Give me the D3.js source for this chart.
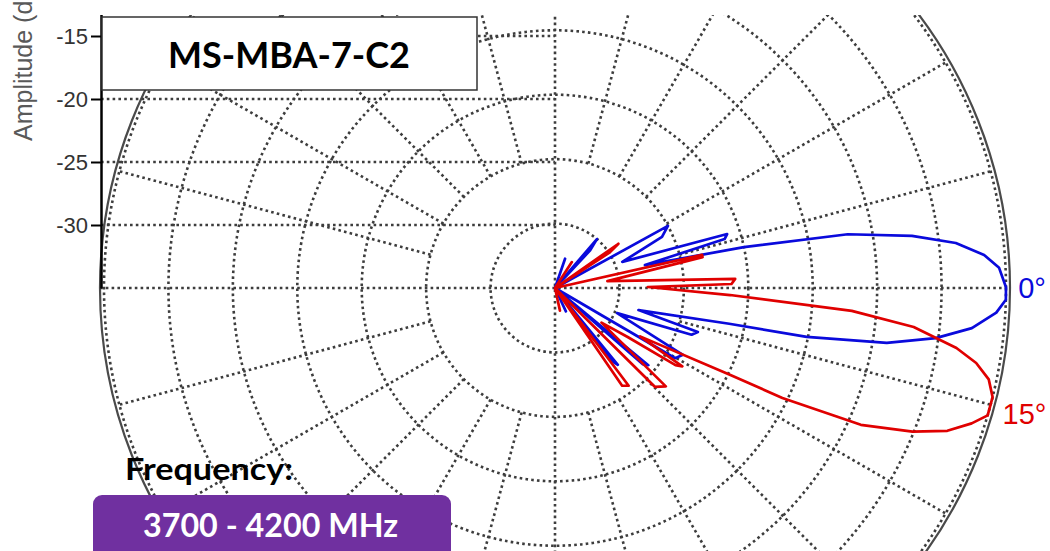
<!doctype html>
<html>
  <head>
    <meta charset="utf-8">
    <script src="https://cdnjs.cloudflare.com/ajax/libs/d3/7.8.5/d3.min.js"></script>
    <style>
      body { margin: 0; background: #fff; }
      svg { display: block; }
      .grid { fill: none; stroke: #3d3d3d; stroke-width: 2.6; stroke-dasharray: 2.6 3.2; }
      .tick text { font-family: "Liberation Sans", Arial, sans-serif; font-size: 22px; fill: #333; }
    </style>
  </head>
  <body>
    <svg id="chart" width="1050" height="551"></svg>
    <script>
      // rings every 5 dB, amplitude axis ticks
      var ringLevels = [-30, -25, -20, -15, -10, -5, 0];
      var axisTicks = [-30, -25, -20, -15];
      var spokeAngles = [15, 30, 45, 60, 75, 105, 120, 135, 150, 165, 195, 210, 225, 240, 255, 285, 300, 315, 330, 345];

      // series: beam tilt 0 deg (blue) and 15 deg (red); angle in degrees, up = positive
      var seriesNames = ["0°", "15°"];
      var seriesColors = ["#0a0adc", "#e00000"];
      var seriesPeak = [0, -15];

      var blueAngles = [90, 76, 71, 66, 53, 49.4, 47, 43, 35, 28.8, 25.5, 21.2, 17.4, 16.1, 14.3, 12.2, 10.4, 8.3, 6.4, 4.4, 2.6, 0.1, -1.5, -3.2, -5.5, -7.5, -9.4, -11.0, -11.6, -14.8, -17.1, -18.9, -22.0, -27.6, -30.3, -36, -39.6, -41, -45, -50.7, -52, -56, -65, -70, -90];
      var blueDb = [-35, -35, -32.6, -35, -35, -30.0, -31.0, -35, -35, -25.0, -25.8, -29.4, -21.0, -21.3, -27.8, -20.0, -11.9, -7.0, -3.7, -1.6, -0.5, 0, 0, -0.7, -2.5, -5.2, -8.9, -15.1, -21.2, -28.3, -23.4, -23.8, -29.8, -23.8, -24.2, -35, -25.6, -26.0, -35, -27.3, -27.8, -35, -33.0, -35, -35];

      var redAngles = [90, 62, 57, 53, 40, 34.9, 33, 30, 20, 12.7, 11.8, 7.5, 2.9, 1.3, 0.6, -2.3, -4.4, -6.2, -8.5, -10.1, -11.9, -14.0, -16.4, -18.0, -20.0, -21.9, -24.1, -25.8, -26.4, -29.6, -31.6, -32.6, -34, -36.7, -41.6, -44.7, -50, -53, -55.5, -60, -77.7, -82, -90];
      var redDb = [-35, -35, -32.6, -35, -35, -29.0, -30.0, -35, -35, -23.3, -23.3, -30.9, -21.0, -21.3, -27.8, -21.4, -11.9, -7.0, -3.5, -1.8, -0.6, 0, 0, -1.0, -2.6, -5.1, -9.0, -15.4, -19.9, -27.4, -23.4, -23.9, -28.2, -30.5, -23.5, -24.1, -35, -25.5, -25.8, -35, -33.2, -35, -35];

      var series = [
        d3.zip(blueAngles, blueDb),
        d3.zip(redAngles, redDb)
      ];

      var cx = 555, cy = 288;
      var svg = d3.select("#chart");

      var rScale = d3.scaleLinear().domain([-35, 0]).range([0, 451]).clamp(true);
      var yAxis = d3.scaleLinear().domain([-35, 0]).range([cy, cy - 35 * 12.6]);
      var rad = d => d * Math.PI / 180;

      svg.append("clipPath").attr("id", "plotClip")
        .append("rect").attr("x", 0).attr("y", 15).attr("width", 1050).attr("height", 551);

      var plot = svg.append("g").attr("clip-path", "url(#plotClip)");
      var polar = plot.append("g").attr("transform", "translate(" + cx + "," + cy + ")");

      // dotted rings
      polar.selectAll("circle.ring")
        .data(ringLevels)
        .enter().append("circle")
          .attr("class", "grid ring")
          .attr("r", d => rScale(d));

      // solid outer boundary
      polar.append("circle")
        .attr("r", rScale(0) + 4)
        .attr("fill", "none")
        .attr("stroke", "#4a4a4a")
        .attr("stroke-width", 2.2);

      // spokes start at the -25 dB ring
      polar.selectAll("line.spoke")
        .data(spokeAngles)
        .enter().append("line")
          .attr("class", "grid spoke")
          .attr("x1", d => rScale(-25) * Math.cos(rad(d)))
          .attr("y1", d => -rScale(-25) * Math.sin(rad(d)))
          .attr("x2", d => rScale(0) * Math.cos(rad(d)))
          .attr("y2", d => -rScale(0) * Math.sin(rad(d)));

      // main axes through the centre
      polar.append("line").attr("class", "grid")
        .attr("x1", -rScale(0) - 4).attr("x2", rScale(0)).attr("y1", 0).attr("y2", 0);
      polar.append("line").attr("class", "grid")
        .attr("x1", 0).attr("x2", 0).attr("y1", -rScale(0)).attr("y2", rScale(0));

      // horizontal guides from the amplitude axis
      var axisX = cx - rScale(0) - 3;
      plot.selectAll("line.hguide")
        .data(axisTicks)
        .enter().append("line")
          .attr("class", "grid hguide")
          .attr("x1", axisX).attr("x2", cx)
          .attr("y1", d => yAxis(d)).attr("y2", d => yAxis(d));

      // pattern curves
      var line = d3.lineRadial()
        .angle(d => rad(90 - d[0]))
        .radius(d => rScale(d[1]));

      polar.selectAll("path.pattern")
        .data(series)
        .enter().append("path")
          .attr("class", "pattern")
          .attr("d", line)
          .attr("fill", "none")
          .attr("stroke", (d, i) => seriesColors[i])
          .attr("stroke-width", 2.7)
          .attr("stroke-linejoin", "round");

      // amplitude axis
      var ax = plot.append("g")
        .attr("transform", "translate(" + axisX + ",0)")
        .call(d3.axisLeft(yAxis).tickValues(axisTicks).tickSize(10).tickSizeOuter(0).tickPadding(3)
          .tickFormat(d => String(d)));
      ax.select(".domain").attr("stroke", "#000").attr("stroke-width", 2.5);
      ax.selectAll(".tick line").attr("stroke", "#000").attr("stroke-width", 2);

      svg.append("text")
        .attr("transform", "translate(32,141) rotate(-90)")
        .attr("font-family", "Liberation Sans, Arial, sans-serif")
        .attr("font-size", 25)
        .attr("fill", "#595959")
        .text("Amplitude (dB)");

      // series labels at the beam peaks
      var labelR = [rScale(0) + 26, rScale(0) + 35];
      svg.selectAll("text.series")
        .data(seriesNames)
        .enter().append("text")
          .attr("class", "series")
          .attr("x", (d, i) => cx + labelR[i] * Math.cos(rad(seriesPeak[i])))
          .attr("y", (d, i) => cy - labelR[i] * Math.sin(rad(seriesPeak[i])))
          .attr("text-anchor", "middle")
          .attr("dominant-baseline", "central")
          .attr("font-family", "Liberation Sans, Arial, sans-serif")
          .attr("font-size", 29)
          .attr("fill", (d, i) => seriesColors[i])
          .text(d => d);

      // title box
      svg.append("rect")
        .attr("x", 102).attr("y", 17).attr("width", 375).attr("height", 73)
        .attr("fill", "#fff").attr("stroke", "#333").attr("stroke-width", 1.5);
      svg.append("text")
        .attr("x", 289).attr("y", 68)
        .attr("text-anchor", "middle")
        .attr("font-family", "Lato, Open Sans, sans-serif")
        .attr("font-weight", "bold")
        .attr("font-size", 36)
        .text("MS-MBA-7-C2");

      // frequency badge
      svg.append("text")
        .attr("x", 125).attr("y", 480)
        .attr("font-family", "Lato, Open Sans, sans-serif")
        .attr("font-weight", "bold")
        .attr("font-size", 31)
        .attr("textLength", 168)
        .attr("lengthAdjust", "spacingAndGlyphs")
        .text("Frequency:");
      svg.append("rect")
        .attr("x", 93).attr("y", 495).attr("width", 358).attr("height", 70)
        .attr("rx", 9)
        .attr("fill", "#7030a0");
      svg.append("text")
        .attr("x", 143).attr("y", 537)
        .attr("font-family", "Lato, Open Sans, sans-serif")
        .attr("font-weight", "bold")
        .attr("font-size", 32)
        .attr("textLength", 255)
        .attr("lengthAdjust", "spacingAndGlyphs")
        .attr("fill", "#fff")
        .text("3700 - 4200 MHz");
    </script>
  </body>
</html>
